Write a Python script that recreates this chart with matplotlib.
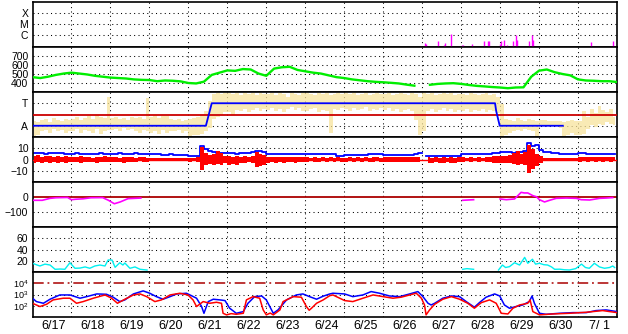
import numpy as np
import matplotlib
matplotlib.use('Agg')
import matplotlib.pyplot as plt

plt.rcParams['font.family'] = ['Liberation Sans', 'DejaVu Sans']
plt.rcParams['mathtext.fontset'] = 'custom'
plt.rcParams['mathtext.rm'] = 'Liberation Sans'
plt.rcParams['mathtext.it'] = 'Liberation Sans'

# ---------------- data ----------------
day_labels = ['6/17', '6/18', '6/19', '6/20', '6/21', '6/22', '6/23', '6/24',
              '6/25', '6/26', '6/27', '6/28', '6/29', '6/30', '7/ 1']

# panel 1: X-ray flux (W/m2)
xray_t = [10.07, 10.10, 10.41, 10.56, 10.58, 10.74, 11.03, 11.05, 11.28, 11.58, 11.69, 11.71,
          12.00, 12.02, 12.10, 12.17, 12.32, 12.41, 12.43, 12.75, 12.82, 12.84, 14.33, 14.89]
xray_flux = [1.9e-7, 1.6e-7, 2.8e-7, 1.2e-7, 1.7e-7, 1.3e-6, 1.2e-7, 1.2e-7, 1.6e-7, 2.8e-7, 2.8e-7, 2.8e-7,
             1.6e-7, 3.0e-7, 3.2e-7, 1.2e-7, 2.8e-7, 1.0e-6, 3.5e-7, 2.6e-7, 1.0e-6, 3.7e-7, 2.4e-7, 2.8e-7]
xray_levels = ['C', 'M', 'X']

# panel 2: solar wind speed (km/s), every 0.2 day
speed_t = np.arange(76) * 0.2
speed = [465, 455, 470, 490, 505, 515, 505, 495, 480, 470,
         460, 455, 450, 440, 435, 433, 420, 428, 425, 418,
         400, 395, 415, 490, 515, 540, 535, 555, 550, 505,
         480, 560, 575, 580, 545, 530, 515, 505, 485, 465,
         455, 440, 430, 420, 413, 408, 402, 395, 382, 370,
         np.nan, 380, 390, 395, 398, 390, 378, 368, 362, 355,
         350, 342, 350, 352, 470, 537, 550, 520, 500, 485,
         440, 428, 425, 420, 420, 411]
speed_ticks = [400, 500, 600, 700]

# panel 3: IMF sector (T / A), envelopes every 0.1 day
bin_t = np.arange(150) * 0.1 + 0.05
phi_lo = [-1.9, -1.8, -1.5, -1.4, -1.6, -1.3, -1.5, -1.4, -1.6, -1.5,
          -1.5, -1.3, -1.6, -1.4, -1.5, -1.6, -1.3, -1.7, -1.5, -1.4,
          -1.4, -1.3, -1.5, -1.2, -1.4, -1.3, -1.5, -1.6, -1.4, -1.5,
          -1.6, -1.5, -1.7, -1.4, -1.6, -1.5, -1.5, -1.4, -1.6, -1.5,
          -1.9, -1.8, -1.8, -1.7, -1.5, -1.2, -0.4, -0.2, 0.0, 0.2,
          0.2, 0.0, 0.4, 0.3, 0.5, 0.2, 0.4, 0.6, 0.3, 0.5,
          0.4, 0.6, 0.3, 0.5, 0.2, 0.5, 0.7, 0.4, 0.6, 0.3,
          0.3, 0.5, 0.6, 0.2, 0.4, 0.3, -1.6, 0.5, 0.4, 0.6,
          0.5, 0.3, 0.6, 0.4, 0.5, 0.7, 0.3, 0.5, 0.4, 0.6,
          0.4, 0.6, 0.3, 0.5, 0.2, 0.4, 0.5, 0.3, -0.5, -1.8,
          -1.5, 0.3, 0.5, 0.2, 0.4, 0.6, 0.3, 0.5, 0.2, 0.4,
          0.3, 0.5, 0.2, 0.4, 0.3, 0.5, 0.2, 0.4, 0.3, 0.1,
          -1.9, -1.8, -1.6, -1.5, -1.4, -1.5, -1.3, -1.4, -1.5, -1.9,
          -1.0, -0.9, -0.9, -1.0, -0.9, -1.2, -1.9, -1.8, -1.6, -1.8,
          -1.8, -1.7, -1.3, -0.9, -1.1, -0.8, -0.9, -0.7, -0.8, -0.9]
phi_hi = [-0.6, -0.7, -0.5, -0.4, -0.7, -0.3, -0.5, -0.6, -0.4, -0.5,
          -0.4, -0.2, -0.5, -0.3, -0.1, -0.4, 0.0, -0.2, -0.3, 1.6,
          -0.3, -0.2, -0.4, -0.3, -0.5, -0.2, -0.3, -0.2, -0.4, 1.5,
          -0.2, 0.0, -0.3, -0.1, -0.1, -0.4, -0.5, -0.4, -0.6, -0.5,
          -0.4, -0.3, -0.2, 0.0, 0.3, 1.2, 1.8, 1.9, 1.8, 1.9,
          1.9, 1.8, 1.9, 1.7, 1.9, 1.8, 1.9, 1.7, 1.9, 1.8,
          1.8, 1.9, 1.7, 1.9, 1.8, 1.6, 1.9, 1.8, 1.7, 1.9,
          1.9, 1.8, 1.7, 1.9, 1.8, 1.9, 1.7, 1.8, 1.9, 1.8,
          1.9, 1.8, 1.9, 1.7, 1.8, 1.9, 1.7, 1.8, 1.9, 1.8,
          1.8, 1.9, 1.7, 1.8, 1.9, 1.8, 1.7, 1.9, 1.8, 1.6,
          1.9, 1.8, 1.9, 1.7, 1.8, 1.9, 1.8, 1.9, 1.7, 1.8,
          1.8, 1.7, 1.9, 1.8, 1.7, 1.8, 1.9, 1.7, 1.8, 1.6,
          0.9, -0.4, -0.5, -0.6, -0.3, -0.5, -0.6, -0.4, -0.5, -0.6,
          -0.5, -0.5, -0.6, -0.6, -0.6, -0.6, -0.7, -0.6, -0.5, -0.6,
          -0.6, 0.3, -0.2, 0.5, 0.1, 0.8, 0.4, 0.2, 0.5, -0.2]
sector_t = [0.0, 4.45, 4.6, 11.87, 11.9, 11.99, 13.61]
sector = [-1, -1, 1, 1, 0.3, -1, -1]
sector_labels = ['A', 'T']

# panel 4: Bt (blue) and Bz envelope (red), nT, every 0.1 day
bt = [5.5, 6, 5.5, 5, 5.5, 6, 6, 5.5, 5, 5,
      5, 5.5, 5, 5, 4.5, 5, 5, 5.5, 5, 5,
      5, 5, 5.5, 5, 5, 5, 5.5, 5, 5, 4.5,
      4.5, 4.5, 4.5, 4, 4, 4.5, 4, 4, 4, 4,
      3.5, 3.5, 3.5, 12, 9, 8, 6.5, 6, 5.5, 5.5,
      5.5, 5.5, 5, 5.5, 5.5, 6, 6.5, 8, 7.5, 7,
      5, 5, 5, 4.5, 4.5, 5, 5, 4.5, 4.5, 4.5,
      4.5, 4.5, 4.5, 4.5, 4.5, 4.5, 4.5, 4.5, 3.5, 3.5,
      4, 4, 4, 4, 4, 4, 5, 5, 5, 5,
      4, 4, 4, 4, 4, 4, 4, 4, 4.5, 5.5,
      np.nan, 3.5, 3, 3, 3.5, 3, 3, 3.5, 3, 3,
      4.5, 4.5, 4.5, 4.5, 4.5, 4.5, 4.5, 4.5, 6, 6,
      6.5, 6.5, 7, 6, 6.5, 7, 7.5, 15, 12, 13,
      8.5, 7, 7, 6, 6, 5, 5, 5, 5, 5,
      6, 6, 5, 4.5, 4.5, 4.5, 4.5, 4.5, 5, 5]
bz_lo = [-3, -2, -3.5, -2, -3, -2.5, -3, -2, -3.5, -2,
         -2.5, -2, -3, -2, -2.5, -2, -3, -2, -2.5, -2,
         -2, -2.5, -2, -3, -2, -2.5, -2, -1.5, -2.5, -2,
         -1.5, -1, -1.5, -1, -1.5, -1, -1.5, -1, -1.5, -1,
         -2, -1.5, -2, -9, -5, -4, -5, -4, -5, -3,
         -5, -4, -5, -3, -3, -2.5, -3, -6.5, -6, -5,
         -3, -2.5, -3, -2, -3, -2.5, -2, -3, -2.5, -2,
         -2, -1.5, -2, -2, -1.5, -2, -1.5, -2, -1.5, -2,
         -2, -1.5, -2, -1.5, -2, -1.5, -2, -2, -1.5, -2,
         -2, -2.5, -2, -2.5, -2, -2.5, -2, -2.5, -2, -2.5,
         np.nan, -3, -3.5, -2.5, -3, -3.5, -2.5, -3, -3.5, -2.5,
         -2, -1.5, -2, -1.5, -2, -1.5, -2, -2, -3.5, -3,
         -3, -3.5, -3, -4, -5, -4, -5, -12, -8, -6,
         -3, -1.5, -1, -1, -1, -1, -1, -1, -1, -1,
         -2, -1.5, -2, -1.5, -2, -1.5, -2, -1.5, -2, -1.5]
bz_hi = [3, 4, 2.5, 3.5, 3, 2, 3.5, 2.5, 3, 2,
         2.5, 2, 3, 2, 2.5, 1.5, 2.5, 2, 3, 2,
         2, 2.5, 1.5, 2, 2.5, 2, 1.5, 2, 2, 1.5,
         1.5, 1, 1.5, 1, 1.5, 1, 1, 1.5, 1, 1,
         1.5, 1, 2, 11, 6, 4, 5, 8, 6, 3,
         3, 2.5, 3, 2.5, 3, 2, 3, 7, 5, 4,
         2.5, 2, 2.5, 2, 2.5, 2, 2, 2.5, 2, 2,
         2, 1.5, 2, 1.5, 2, 1.5, 2, 1.5, 2, 1.5,
         1.5, 2, 1.5, 2, 1.5, 2, 1.5, 2, 2, 1.5,
         2, 2.5, 2, 2, 2.5, 2, 2, 2.5, 2, 2.5,
         np.nan, 2, 1.5, 2, 1.5, 2, 1.5, 2, 1.5, 2,
         2, 1.5, 2, 1.5, 2, 1.5, 2, 2, 3.5, 3,
         3, 3.5, 4, 6, 8, 5, 7, 13, 9, 5,
         3, 1.5, 1, 1, 1, 1, 1, 1, 1, 1,
         2, 2.5, 2, 2.5, 2, 2.5, 2, 2.5, 2, 2.5]
b_ticks = [-10, 0, 10]

# panel 5: Dst (nT)
dst_t = [0.0, 0.25, 0.45, 0.6, 0.9, 1.0, 1.1, 1.3, 1.5, 1.8, 1.95, 2.1, 2.25, 2.45, 2.78, 2.8,
         11.04, 11.32, 11.34,
         12.0, 12.16, 12.37, 12.54, 12.62, 12.71, 12.84, 12.93, 13.01, 13.14, 13.27, 13.44,
         13.7, 13.96, 14.08, 14.3, 14.55, 14.72, 14.89]
dst = [-22, -22, -9, -5, -3, -18, -15, -12, -5, -4, -22, -45, -33, -11, -7, np.nan,
       -22, -18, np.nan,
       -13, -18, -13, 31, 27, 27, 9, 2, -18, -33, -22, -9,
       -7, -9, -18, -20, -9, -7, -4]
dst_ticks = [-100, 0]

# panel 6: proton density / index (cyan)
cy_t = [0.0, 0.12, 0.19, 0.32, 0.45, 0.58, 0.71, 0.83, 0.96, 1.09, 1.22, 1.35, 1.47, 1.6, 1.73,
        1.86, 1.94, 2.04, 2.12, 2.24, 2.32, 2.37, 2.5, 2.63, 2.76, 2.94, 2.95,
        11.04, 11.15, 11.32, 11.33,
        11.96, 12.06, 12.14, 12.24, 12.37, 12.5, 12.63, 12.71, 12.83, 12.91, 13.01, 13.12,
        13.22, 13.32, 13.4, 13.53, 13.65, 13.78, 13.94, 14.09, 14.19, 14.29, 14.42, 14.55,
        14.68, 14.81, 14.89, 14.94]
cy = [15.5, 12.4, 10.7, 14, 12.4, 4.8, 5.3, 4.8, 16.5, 6.6, 7, 9, 6.6, 10.7, 12.4,
      10.7, 21.3, 21.3, 8.3, 16.5, 12.4, 16, 6.6, 9, 4.8, 3.5, np.nan,
      4.8, 6, 4.8, np.nan,
      3.6, 12.4, 8, 9.5, 16.5, 12.4, 26, 15.5, 22.7, 14, 15.5, 13,
      12.4, 9, 4.8, 5, 4, 3.6, 6, 14, 8, 6.6, 15.5, 9,
      6.6, 8, 10.7, 8]
cy_ticks = [20, 40, 60]

# panel 7: electron flux, log10 values
eb_t = [0, 0.1, 0.28, 0.45, 0.7, 0.96, 1.22, 1.39, 1.65, 1.9, 2.07, 2.24, 2.37, 2.59, 2.84, 3.01,
        3.18, 3.35, 3.53, 3.7, 3.95, 4.04, 4.21, 4.34, 4.4, 4.51, 4.64, 4.81, 4.94, 5.06, 5.23,
        5.41, 5.53, 5.7, 5.88, 6.0, 6.18, 6.3, 6.52, 6.77, 6.94, 7.11, 7.29, 7.46, 7.63, 7.71,
        8.01, 8.22, 8.48, 8.69, 8.91, 9.16, 9.42, 9.68, 9.89, 10.02, 10.15, 10.23, 10.32, 10.53,
        10.75, 10.96, 11.13, 11.34, 11.47, 11.64, 11.86, 11.99, 12.11, 12.24, 12.41, 12.58,
        12.75, 12.82, 12.88, 13.01, 13.18, 13.52, 13.87, 14.21, 14.46, 14.72, 15.0]
eb_log = [2.67, 2.37, 2.22, 2.58, 2.96, 2.96, 2.67, 2.81, 3.05, 3.02, 2.76, 2.37, 2.52, 3.05, 3.32, 3.11,
          2.81, 2.58, 2.81, 3.05, 3.11, 2.96, 2.67, 1.93, 1.33, 2.37, 2.58, 2.52, 2.46, 1.78, 1.33,
          1.48, 2.22, 2.81, 2.87, 2.52, 1.33, 1.63, 2.52, 2.96, 3.05, 2.81, 2.58, 2.85, 3.05, 3.11,
          3.05, 2.81, 2.96, 3.26, 3.11, 2.87, 2.81, 3.05, 3.26, 2.81, 2.22, 2.07, 2.22, 2.67,
          2.87, 2.81, 2.37, 1.87, 2.28, 2.76, 3.05, 2.87, 2.07, 1.78, 1.93, 2.07,
          2.37, 2.87, 2.22, 1.33, 1.24, 1.33, 1.39, 1.39, 1.57, 1.63, 1.48]
er_t = [0, 0.19, 0.36, 0.53, 0.79, 0.96, 1.13, 1.3, 1.56, 1.86, 2.03, 2.18, 2.37, 2.59, 2.76, 2.93,
        3.14, 3.31, 3.53, 3.78, 3.99, 4.12, 4.21, 4.38, 4.55, 4.72, 4.85, 4.89, 4.98, 5.1, 5.23,
        5.41, 5.49, 5.66, 5.83, 5.92, 6.0, 6.1, 6.18, 6.35, 6.43, 6.69, 6.9, 7.03, 7.1, 7.16,
        7.29, 7.46, 7.63, 7.71, 8.01, 8.22, 8.48, 8.74, 9.0, 9.25, 9.46, 9.68, 9.85, 9.98, 10.06,
        10.1, 10.19, 10.32, 10.53, 10.75, 10.96, 11.17, 11.34, 11.52, 11.73, 11.9, 12.03, 12.2,
        12.33, 12.5, 12.71, 12.77, 12.84, 13.01, 13.35, 13.78, 14.21, 14.63, 15.0]
er_log = [2.22, 1.93, 2.13, 2.52, 2.67, 2.67, 2.22, 2.37, 2.67, 2.96, 2.67, 2.22, 2.58, 2.96, 3.05, 2.81,
          2.37, 2.52, 2.96, 3.11, 2.96, 2.52, 1.93, 2.37, 2.22, 2.31, 2.22, 1.33, 1.19, 1.3, 1.24,
          1.33, 2.52, 2.81, 2.67, 1.63, 1.19, 1.35, 1.19, 1.63, 2.37, 2.81, 2.76, 1.93, 1.6, 1.78,
          2.22, 2.52, 2.9, 2.96, 2.46, 2.37, 2.67, 2.96, 2.81, 2.67, 2.76, 2.96, 3.11, 2.67, 2.07,
          1.19, 1.63, 2.13, 2.58, 2.81, 2.58, 2.22, 1.78, 2.28, 2.52, 2.22, 1.33, 1.27,
          1.78, 2.07, 2.22, 2.52, 1.48, 1.19, 1.27, 1.33, 1.42, 1.57, 1.39]
e_threshold = 1e4
e_ticks = [1e2, 1e3, 1e4]
e_ticklabels = ['$10^2$', '$10^3$', '$10^4$']

# ---------------- figure ----------------
W, H = 628, 334
fig = plt.figure(figsize=(W / 100, H / 100), dpi=100)
x0, x1 = 32.5, 617.0
panel_tops = [2, 47, 92, 137, 182, 227, 272]
ph = 45
axes = []
for top in panel_tops:
    ax = fig.add_axes([x0 / W, 1 - (top + ph) / H, (x1 - x0) / W, ph / H])
    ax.set_xlim(0, 15)
    ax.set_xticks([])
    for s in ax.spines.values():
        s.set_linewidth(1.2)
        s.set_color('black')
    ax.tick_params(axis='y', length=0, pad=3, labelsize=7.5)
    for d in range(1, 15):
        ax.axvline(d, color='black', lw=0.75, dashes=(1, 3.2), zorder=1)
    axes.append(ax)

dot = dict(color='black', lw=0.75, dashes=(1, 3.2), zorder=1)

# panel 1
ax = axes[0]
ax.set_yscale('log')
ax.set_ylim(10 ** -7.1, 10 ** -2.95)
ax.vlines(xray_t, 10 ** -7.1, xray_flux, color='#ff00ff', lw=1.0, zorder=3)
ax.set_yticks([1e-6, 1e-5, 1e-4])
ax.set_yticklabels(xray_levels)
ax.yaxis.set_minor_locator(matplotlib.ticker.NullLocator())
for v in [1e-6, 1e-5, 1e-4]:
    ax.axhline(v, **dot)

# panel 2
ax = axes[1]
ax.set_ylim(300, 800)
ax.plot(speed_t, speed, color='#00ee00', lw=1.7, zorder=3)
ax.set_yticks(speed_ticks)
for v in speed_ticks:
    ax.axhline(v, **dot)

# panel 3
ax = axes[2]
ax.set_ylim(-2, 2)
ax.fill_between(bin_t, phi_lo, phi_hi, step='mid', color='#f8e49c', alpha=0.75,
                lw=0, zorder=2)
ax.axhline(0, color='#cc0000', lw=1.3, zorder=3)
ax.plot(sector_t, sector, color='#0000ff', lw=1.3, zorder=4)
ax.set_yticks([-1, 1])
ax.set_yticklabels(sector_labels)
for v in [-1, 1]:
    ax.axhline(v, **dot)

# panel 4
ax = axes[3]
ax.set_ylim(-20, 20)
ax.fill_between(bin_t, bz_lo, bz_hi, step='mid', color='#ff0000', lw=0, zorder=3)
ax.axhline(0, color='#ff0000', lw=1.0, zorder=3)
ax.plot(bin_t, bt, color='#0000ff', lw=1.3, drawstyle='steps-mid', zorder=2)
ax.set_yticks(b_ticks)
for v in [-10, 10]:
    ax.axhline(v, **dot)

# panel 5
ax = axes[4]
ax.set_ylim(-200, 100)
ax.axhline(0, color='#aa0000', lw=1.3, zorder=2)
ax.plot(dst_t, dst, color='#ff00ff', lw=1.2, zorder=3)
ax.set_yticks(dst_ticks)
ax.axhline(-100, **dot)

# panel 6
ax = axes[5]
ax.set_ylim(0, 80)
ax.plot(cy_t, cy, color='#00f0f0', lw=1.0, zorder=3)
ax.set_yticks(cy_ticks)
for v in cy_ticks:
    ax.axhline(v, **dot)

# panel 7
ax = axes[6]
ax.set_yscale('log')
ax.set_ylim(10, 1e5)
ax.plot(eb_t, 10 ** np.array(eb_log), color='#0000ff', lw=1.1, zorder=3)
ax.plot(er_t, 10 ** np.array(er_log), color='#ff0000', lw=1.1, zorder=4)
ax.axhline(e_threshold, color='#aa0000', lw=1.1, dashes=(7, 2.5, 1.2, 2.5), zorder=2)
ax.set_yticks(e_ticks)
ax.set_yticklabels(e_ticklabels)
ax.tick_params(axis='y', labelsize=6.5)
ax.yaxis.set_minor_locator(matplotlib.ticker.NullLocator())
for v in [1e2, 1e3]:
    ax.axhline(v, **dot)
ax.set_xticks(np.arange(15) + 0.55)
ax.set_xticklabels(day_labels, fontsize=9)
ax.tick_params(axis='x', length=0, pad=2)

fig.savefig('out.png', dpi=100, facecolor='white')
